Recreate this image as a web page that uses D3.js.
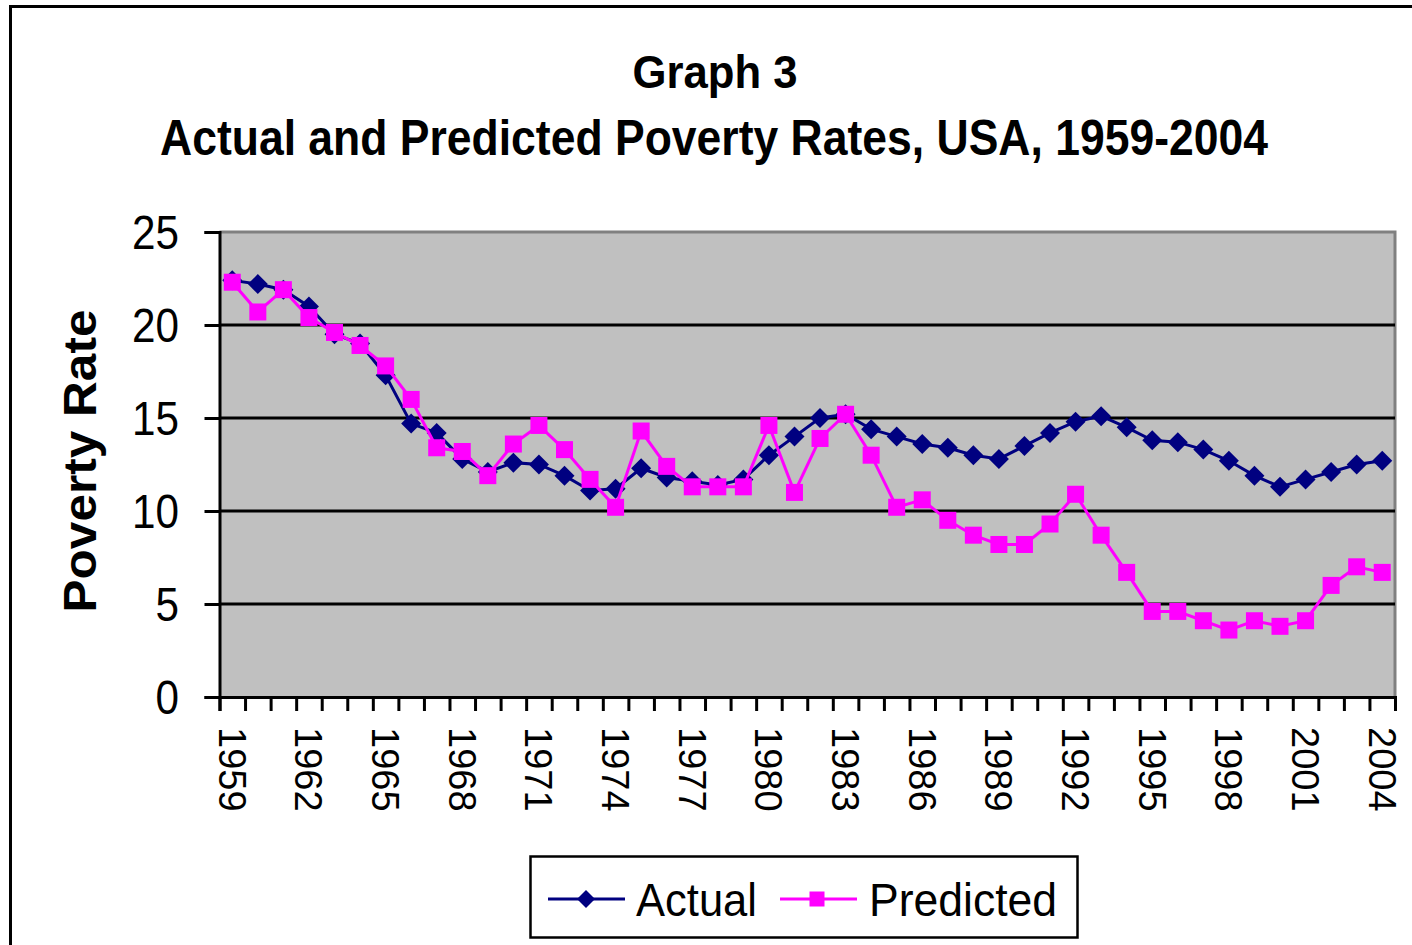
<!DOCTYPE html>
<html>
<head>
<meta charset="utf-8">
<script src="https://cdn.jsdelivr.net/npm/d3@7"></script>
<style>
  html, body { margin: 0; padding: 0; background: #fff; }
  svg { display: block; }
  text { font-family: "Liberation Sans", Arial, sans-serif; }
</style>
</head>
<body>
<svg id="chart" width="1412" height="945"></svg>
<script>
const years = d3.range(1959, 2005);
const actual = [22.4, 22.2, 21.9, 21.0, 19.5, 19.0, 17.3, 14.7, 14.2, 12.8,
                12.1, 12.6, 12.5, 11.9, 11.1, 11.2, 12.3, 11.8, 11.6, 11.4,
                11.7, 13.0, 14.0, 15.0, 15.2, 14.4, 14.0, 13.6, 13.4, 13.0,
                12.8, 13.5, 14.2, 14.8, 15.1, 14.5, 13.8, 13.7, 13.3, 12.7,
                11.9, 11.3, 11.7, 12.1, 12.5, 12.7];
const predicted = [22.3, 20.7, 21.9, 20.4, 19.6, 18.9, 17.8, 16.0, 13.4, 13.2,
                   11.9, 13.6, 14.6, 13.3, 11.7, 10.2, 14.3, 12.4, 11.3, 11.3,
                   11.3, 14.6, 11.0, 13.9, 15.2, 13.0, 10.2, 10.6, 9.5, 8.7,
                   8.2, 8.2, 9.3, 10.9, 8.7, 6.7, 4.6, 4.6, 4.1, 3.6,
                   4.1, 3.8, 4.1, 6.0, 7.0, 6.7];
const yTicks = [0, 5, 10, 15, 20, 25];
const xLabelYears = [1959, 1962, 1965, 1968, 1971, 1974, 1977, 1980, 1983, 1986,
                     1989, 1992, 1995, 1998, 2001, 2004];
const titleLines = ["Graph 3", "Actual and Predicted Poverty Rates, USA, 1959-2004"];
const yAxisTitle = "Poverty Rate";
const seriesNames = ["Actual", "Predicted"];

const svg = d3.select("#chart");
const L = 219.5, R = 1395, T = 232, B = 697;

// outer frame
svg.append("rect").attr("x", 10.5).attr("y", 6.5).attr("width", 1440).attr("height", 980)
  .attr("fill", "#fff").attr("stroke", "#000").attr("stroke-width", 3);

const x = d3.scaleBand().domain(years).range([L, R]).paddingInner(0).paddingOuter(0);
const xb = d3.scaleLinear().domain([0, years.length]).range([L, R]);
const y = d3.scaleLinear().domain([0, 25]).range([B, T]);
const cx = d => x(d) + x.bandwidth() / 2;

// plot area
svg.append("rect").attr("x", L).attr("y", T).attr("width", R - L).attr("height", B - T)
  .attr("fill", "#C0C0C0");
svg.append("path").attr("d", `M${L},${T}H${R}V${B}`).attr("fill", "none")
  .attr("stroke", "#808080").attr("stroke-width", 3);

// gridlines
svg.append("g").selectAll("line").data(yTicks.filter(v => v > 0 && v < 25)).join("line")
  .attr("x1", L).attr("x2", R).attr("y1", d => y(d)).attr("y2", d => y(d))
  .attr("stroke", "#000").attr("stroke-width", 3);

// y axis
const yAxis = svg.append("g").attr("transform", `translate(${L},0)`)
  .call(d3.axisLeft(y).tickValues(yTicks).tickSize(15).tickFormat(""));
yAxis.selectAll("line, path").attr("stroke", "#000").attr("stroke-width", 3);
svg.append("g").selectAll("text").data(yTicks).join("text")
  .attr("x", 179).attr("y", d => y(d)).attr("dy", "0.36em")
  .attr("text-anchor", "end").attr("font-size", 48)
  .attr("textLength", d => String(d).length * 23.5).attr("lengthAdjust", "spacingAndGlyphs")
  .text(d => d);

// x axis
const xAxis = svg.append("g").attr("transform", `translate(0,${B})`)
  .call(d3.axisBottom(xb).tickValues(d3.range(years.length + 1)).tickSize(14).tickFormat(""));
xAxis.selectAll("line, path").attr("stroke", "#000").attr("stroke-width", 3);
svg.append("g").selectAll("text").data(xLabelYears).join("text")
  .attr("transform", d => `translate(${cx(d)},727) rotate(90)`)
  .attr("dy", "0.36em").attr("font-size", 38)
  .text(d => d);

// y axis title
svg.append("text").attr("transform", "translate(96,461) rotate(-90)")
  .attr("text-anchor", "middle").attr("font-size", 46).attr("font-weight", "bold")
  .attr("textLength", 303).attr("lengthAdjust", "spacingAndGlyphs")
  .text(yAxisTitle);

// titles
svg.append("text").attr("x", 715).attr("y", 88).attr("text-anchor", "middle")
  .attr("font-size", 47).attr("font-weight", "bold")
  .attr("textLength", 165).attr("lengthAdjust", "spacingAndGlyphs").text(titleLines[0]);
svg.append("text").attr("x", 714).attr("y", 155).attr("text-anchor", "middle")
  .attr("font-size", 50).attr("font-weight", "bold")
  .attr("textLength", 1108).attr("lengthAdjust", "spacingAndGlyphs").text(titleLines[1]);

// series
const line = d3.line().x((d, i) => cx(years[i])).y(d => y(d));
const diamond = s => `M0,${-s}L${s},0L0,${s}L${-s},0Z`;

svg.append("path").datum(actual).attr("d", line).attr("fill", "none")
  .attr("stroke", "#000080").attr("stroke-width", 3);
svg.append("g").selectAll("path").data(actual).join("path")
  .attr("transform", (d, i) => `translate(${cx(years[i])},${y(d)})`)
  .attr("d", diamond(10)).attr("fill", "#000080");

svg.append("path").datum(predicted).attr("d", line).attr("fill", "none")
  .attr("stroke", "#FF00FF").attr("stroke-width", 3);
svg.append("g").selectAll("rect").data(predicted).join("rect")
  .attr("x", (d, i) => cx(years[i]) - 8.5).attr("y", d => y(d) - 8.5)
  .attr("width", 17).attr("height", 17).attr("fill", "#FF00FF");

// legend
const lg = svg.append("g");
lg.append("rect").attr("x", 530.5).attr("y", 856.5).attr("width", 547).attr("height", 81)
  .attr("fill", "#fff").attr("stroke", "#000").attr("stroke-width", 2.5);
lg.append("line").attr("x1", 548).attr("x2", 625).attr("y1", 899).attr("y2", 899)
  .attr("stroke", "#000080").attr("stroke-width", 3);
lg.append("path").attr("transform", "translate(586,899)").attr("d", diamond(9)).attr("fill", "#000080");
lg.append("text").attr("x", 636).attr("y", 916).attr("font-size", 47)
  .attr("textLength", 121).attr("lengthAdjust", "spacingAndGlyphs").text(seriesNames[0]);
lg.append("line").attr("x1", 780).attr("x2", 857).attr("y1", 899).attr("y2", 899)
  .attr("stroke", "#FF00FF").attr("stroke-width", 3);
lg.append("rect").attr("x", 809.5).attr("y", 891.5).attr("width", 15).attr("height", 15).attr("fill", "#FF00FF");
lg.append("text").attr("x", 869).attr("y", 916).attr("font-size", 47)
  .attr("textLength", 188).attr("lengthAdjust", "spacingAndGlyphs").text(seriesNames[1]);
</script>
</body>
</html>
